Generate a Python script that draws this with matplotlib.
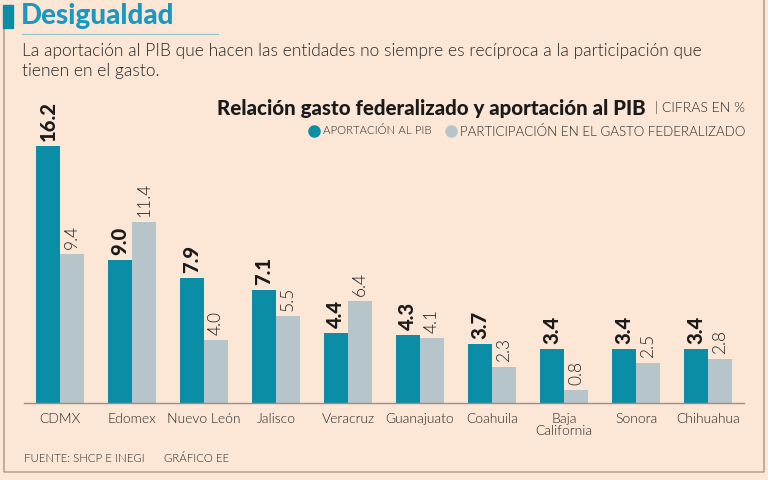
import matplotlib
matplotlib.use("Agg")
import matplotlib.pyplot as plt
from matplotlib.lines import Line2D
from matplotlib.patches import Rectangle
import numpy as np

states = ["CDMX", "Edomex", "Nuevo León", "Jalisco", "Veracruz", "Guanajuato",
          "Coahuila", "Baja\nCalifornia", "Sonora", "Chihuahua"]
aportacion = [16.2, 9.0, 7.9, 7.1, 4.4, 4.3, 3.7, 3.4, 3.4, 3.4]
participacion = [9.4, 11.4, 4.0, 5.5, 6.4, 4.1, 2.3, 0.8, 2.5, 2.8]

BG = "#FCE7D7"
TEAL = "#0A8DA5"
GREY = "#B6C5C9"
TITLE_C = "#1B98C0"
TXT = "#262626"
FRAME = "#B9A08F"
LW = 300

plt.rcParams['font.family'] = ['Lato', 'DejaVu Sans']

W, H = 768, 480
fig = plt.figure(figsize=(W / 100, H / 100), dpi=100, facecolor=BG)

def px(x):
    return x / W

def py(y):
    return 1 - y / H

# frame
fig.add_artist(Line2D([px(4), px(4), px(763.5), px(763.5)],
                      [py(24), py(472), py(472), py(0)],
                      color=FRAME, lw=1.2, transform=fig.transFigure))
fig.add_artist(Rectangle((px(3), py(28)), px(10) - px(0), py(5) - py(28),
                         transform=fig.transFigure, color=TEAL, zorder=3))

# title
fig.text(px(21), py(16), "Desigualdad", fontsize=20, fontweight='black',
         color=TITLE_C, va='center', ha='left')
fig.add_artist(Line2D([px(22), px(218)], [py(34), py(34)], color="#8CC3C6",
                      lw=0.8, transform=fig.transFigure))
fig.text(px(22), py(51), "La aportación al PIB que hacen las entidades no siempre es recíproca a la participación que",
         fontsize=12.5, fontweight=LW, color=TXT, va='center', ha='left')
fig.text(px(22), py(71), "tienen en el gasto.",
         fontsize=12.5, fontweight=LW, color=TXT, va='center', ha='left')

# chart title
fig.text(px(646), py(108), "Relación gasto federalizado y aportación al PIB",
         fontsize=14.8, fontweight='black', color="#1A1A1A", va='center', ha='right')
fig.text(px(745), py(108), "| CIFRAS EN %", fontsize=10, fontweight=LW,
         color=TXT, va='center', ha='right')

# legend
fig.add_artist(Line2D([px(314)], [py(131)], marker='o', ms=8, color=TEAL,
                      lw=0, transform=fig.transFigure))
fig.text(px(323), py(131), "APORTACIÓN AL PIB", fontsize=8.2, fontweight=LW,
         color=TXT, va='center', ha='left')
fig.add_artist(Line2D([px(451)], [py(131)], marker='o', ms=8, color=GREY,
                      lw=0, transform=fig.transFigure))
fig.text(px(745), py(131), "PARTICIPACIÓN EN EL GASTO FEDERALIZADO", fontsize=9.6,
         fontweight=LW, color=TXT, va='center', ha='right')

# axes
top_px, base_px = 100, 403
ax = fig.add_axes([px(24), py(base_px), px(744) - px(24), (base_px - top_px) / H])
ax.set_facecolor('none')
scale = 257 / 16.2
ax.set_ylim(0, (base_px - top_px) / scale)
ax.set_xlim(-0.5, len(states) - 0.5)

x = np.arange(len(states))
bw = 0.335
ax.bar(x - bw / 2, aportacion, width=bw, color=TEAL, zorder=2)
ax.bar(x + bw / 2, participacion, width=bw, color=GREY, zorder=2)

off = 5 / scale
for xi, v in zip(x, aportacion):
    ax.text(xi - bw / 2, v + off, f"{v:.1f}", rotation=90, ha='center', va='bottom',
            fontsize=14.5, fontweight='black', color="#1A1A1A")
for xi, v in zip(x, participacion):
    ax.text(xi + bw / 2, v + off, f"{v:.1f}", rotation=90, ha='center', va='bottom',
            fontsize=12.5, fontweight=LW, color=TXT)

for s in ['top', 'right', 'left']:
    ax.spines[s].set_visible(False)
ax.spines['bottom'].set_color("#A08C80")
ax.spines['bottom'].set_linewidth(1.0)
ax.set_yticks([])
ax.set_xticks(x)
ax.set_xticklabels(states, fontsize=10, fontweight=LW, color=TXT,
                   linespacing=1.0)
ax.tick_params(axis='x', length=0, pad=7)

# footer
fig.text(px(24), py(459), "FUENTE: SHCP E INEGI", fontsize=8.2, fontweight=LW,
         color=TXT, va='center', ha='left')
fig.text(px(164), py(459), "GRÁFICO EE", fontsize=8.2, fontweight=LW,
         color=TXT, va='center', ha='left')

fig.savefig("out.png", dpi=100, facecolor=BG)
